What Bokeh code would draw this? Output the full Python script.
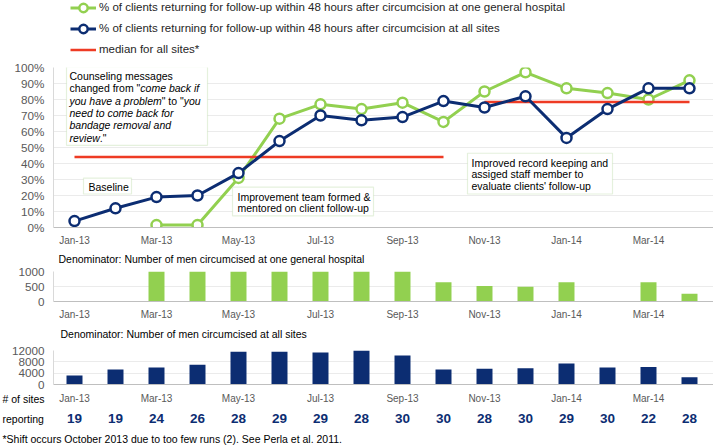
from bokeh.plotting import figure
from bokeh.layouts import column
from bokeh.models import (Range1d, FixedTicker, Legend, LegendItem, Label,
                          BoxAnnotation, ColumnDataSource, PrintfTickFormatter)
from bokeh.core.properties import value
from bokeh.embed import file_html
from bokeh.resources import INLINE

nan = float("nan")

# ---------------- data ----------------
months = ["Jan-13", "Feb-13", "Mar-13", "Apr-13", "May-13", "Jun-13", "Jul-13", "Aug-13",
          "Sep-13", "Oct-13", "Nov-13", "Dec-13", "Jan-14", "Feb-14", "Mar-14", "Apr-14"]
tick_labels = ["Jan-13", "Mar-13", "May-13", "Jul-13", "Sep-13", "Nov-13", "Jan-14", "Mar-14"]
pct_hospital = [nan, nan, 1.5, 1.5, 31, 68, 77, 74, 78, 66, 85, 97, 87, 84, 80, 92]
pct_all_sites = [4, 12, 19, 20, 34, 54, 70, 67, 69, 79, 75, 82, 56, 74, 87, 87]
median_before = 44
median_after = 78.5
n_hospital = [nan, nan, 1000, 1000, 1000, 1000, 1000, 1000, 1000, 640, 520, 490, 640, nan, 640, 260]
n_all_sites = [3200, 5300, 6000, 7000, 11600, 11600, 11300, 12000, 10200, 5300, 5600, 5700,
               7400, 6000, 6200, 2600]
sites_reporting = [19, 19, 24, 26, 28, 29, 29, 28, 30, 30, 28, 30, 29, 30, 22, 28]

legend_labels = [
    "% of clients returning for follow-up within 48 hours after circumcision at one general hospital",
    "% of clients returning for follow-up within 48 hours after circumcision at all sites",
    "median for all sites*",
]
title_hospital = "Denominator: Number of men circumcised at one general hospital"
title_all = "Denominator: Number of men circumcised at all sites"
row_labels = ["# of sites", "reporting"]
footnote = "*Shift occurs October 2013 due to too few runs (2). See Perla et al. 2011."

# ---------------- styles ----------------
GREEN = "#92d050"
NAVY = "#0c2d72"
RED = "#ee3b24"
BOX = "#a9d18e"
FONT = "Liberation Sans"
TXT = "#262626"
GRAY = "#595959"

W = 713
x_idx = list(range(len(months)))
STEP = 41.0                      # pixels per month
X0 = 74.0                        # pixel of first month
shared_x = Range1d((53 - X0) / STEP, (713 - X0) / STEP)
tick_pos = [months.index(t) for t in tick_labels]
overrides = {p: t for p, t in zip(tick_pos, tick_labels)}


def bare(height):
    """A figure whose frame fills the whole strip (for free text rows)."""
    p = figure(width=W, height=height, x_range=Range1d(-X0 / STEP, (W - X0) / STEP),
               y_range=Range1d(0, height), output_backend="svg", toolbar_location=None,
               min_border_left=0, min_border_right=0, min_border_top=0,
               min_border_bottom=0, frame_align=False)
    p.axis.visible = False
    p.grid.visible = False
    p.outline_line_color = None
    p.background_fill_color = "white"
    p.border_fill_color = "white"
    return p


def chart(height, y_range, top, bottom):
    p = figure(width=W, height=height, x_range=shared_x, y_range=y_range,
               output_backend="svg", toolbar_location=None, frame_align=False,
               min_border_left=53, min_border_right=0, min_border_top=top,
               min_border_bottom=bottom)
    p.outline_line_color = None
    p.background_fill_color = "white"
    p.border_fill_color = "white"
    p.xgrid.grid_line_color = None
    p.ygrid.grid_line_color = "#ebebeb"
    p.xaxis.ticker = FixedTicker(ticks=tick_pos)
    p.xaxis.major_label_overrides = overrides
    for ax in (p.xaxis[0], p.yaxis[0]):
        ax.major_tick_line_color = None
        ax.minor_tick_line_color = None
        ax.major_tick_out = 0
        ax.major_tick_in = 0
        ax.major_label_text_font = FONT
        ax.major_label_text_color = GRAY
    p.xaxis.axis_line_color = "#bfbfbf"
    p.yaxis.axis_line_color = "#d9d9d9"
    p.xaxis.major_label_text_font_size = "10px"
    p.xaxis.major_label_standoff = 7
    p.yaxis.major_label_text_font_size = "11.7px"
    p.yaxis.major_label_standoff = 9
    return p


def free_text(p, x, y, text, size="10.5px", color="black"):
    p.add_layout(Label(x=x, y=y, x_units="screen", text=text, text_font=FONT,
                       text_font_size=size, text_color=color, text_baseline="middle"))


# ---------------- legend strip ----------------
pl = bare(60)
hidden = dict(x=[-50, -49], y=[-50, -49])   # legend samples only, outside the strip
lg1 = pl.line(line_color=GREEN, line_width=3, **hidden)
lg2 = pl.scatter(marker="circle", size=10, fill_color="white", line_color=GREEN,
                 line_width=2.5, **hidden)
lb1 = pl.line(line_color=NAVY, line_width=3, **hidden)
lb2 = pl.scatter(marker="circle", size=10, fill_color="white", line_color=NAVY,
                 line_width=2.5, **hidden)
lr = pl.line(line_color=RED, line_width=2.5, **hidden)
legend = Legend(items=[LegendItem(label=legend_labels[0], renderers=[lg1, lg2]),
                       LegendItem(label=legend_labels[1], renderers=[lb1, lb2]),
                       LegendItem(label=legend_labels[2], renderers=[lr])],
                location=(70, 0.5), orientation="vertical", margin=0, padding=0,
                spacing=0, label_height=21, glyph_height=21, glyph_width=26,
                label_standoff=3, background_fill_alpha=0, border_line_color=None,
                label_text_font=FONT, label_text_font_size="11.5px",
                label_text_color=TXT)
pl.add_layout(legend, "center")

# ---------------- top chart ----------------
pa = chart(188, Range1d(0, 100), 7, 20)
pa.yaxis.ticker = FixedTicker(ticks=list(range(0, 101, 10)))
pa.yaxis.formatter = PrintfTickFormatter(format="%d%%")

src = ColumnDataSource(dict(x=x_idx, h=pct_hospital, a=pct_all_sites))
pa.line("x", "h", source=src, line_color=GREEN, line_width=3)
pa.scatter("x", "h", source=src, marker="circle", size=10, fill_color="white",
           line_color=GREEN, line_width=2.5)
first_after = months.index("Nov-13")
pa.segment(x0=[0, first_after], x1=[first_after - 1, len(months) - 1],
           y0=[median_before, median_after], y1=[median_before, median_after],
           line_color=RED, line_width=2.5)
pa.line("x", "a", source=src, line_color=NAVY, line_width=3)
pa.scatter("x", "a", source=src, marker="circle", size=10, fill_color="white",
           line_color=NAVY, line_width=2.5)

ANN_SIZE = 10.5
ANN = dict(text_font=FONT, text_font_size=f"{ANN_SIZE}px", text_color="black",
           text_baseline="middle")

# Arial / Liberation Sans advance widths (per 1000 em) for measuring text runs
_W = {" ": 278, '"': 355, ".": 278, "a": 556, "b": 556, "c": 500, "d": 556, "e": 556,
      "f": 278, "g": 556, "h": 556, "i": 222, "k": 500, "l": 222, "m": 833, "n": 556,
      "o": 556, "p": 556, "r": 333, "s": 500, "t": 278, "u": 556, "v": 500, "w": 722,
      "y": 500}


def run_w(s):
    return sum(_W.get(c, 556) for c in s) * ANN_SIZE / 1000.0


def px(v):  # picture pixel -> month units
    return (v - X0) / STEP


def py(v):  # picture pixel -> percent units
    return (227.7 - v) / 1.61


def box(left, right, top, bottom):
    pa.add_layout(BoxAnnotation(left=left, right=right, top=top, bottom=bottom,
                                fill_color="white", fill_alpha=1, line_color=BOX,
                                line_width=1.2, level="annotation"))


def line_runs(x_px, y_px, runs):
    cur = x_px
    for s, italic in runs:
        pa.add_layout(Label(x=px(cur), y=py(y_px), text=s,
                            text_font_style="italic" if italic else "normal", **ANN))
        cur += run_w(s)


# box 1
box(px(66), px(207), 100.5, py(145))
line_runs(69, 75, [("Counseling messages", False)])
line_runs(69, 87.5, [("changed from \"", False), ("come back if", True)])
line_runs(69, 100, [("you have a problem", True), ("\" to \"", False), ("you", True)])
line_runs(69, 112.5, [("need to come back for", True)])
line_runs(69, 125, [("bandage removal and", True)])
line_runs(69, 137.5, [("review", True), (".\"", False)])
# box 2
box(px(83), px(131), py(178), py(194))
line_runs(88, 186.5, [("Baseline", False)])
# box 3
box(px(232), px(373), py(187), py(216))
line_runs(237, 197, [("Improvement team formed &", False)])
line_runs(237, 208.5, [("mentored on client follow-up", False)])
# box 4
box(px(467), px(612), py(153), py(194))
line_runs(471, 162.3, [("Improved record keeping and", False)])
line_runs(471, 174, [("assiged staff member to", False)])
line_runs(471, 186, [("evaluate clients' follow-up", False)])

# ---------------- middle chart ----------------
t1 = bare(17)
free_text(t1, 58, 7, title_hospital)

pb = chart(57, Range1d(0, 1000), 6, 20)
pb.yaxis.ticker = FixedTicker(ticks=[0, 500, 1000])
pb.vbar(x=x_idx, top=n_hospital, width=0.39, fill_color=GREEN, line_color=None)

# ---------------- bottom chart ----------------
t2 = bare(21)
free_text(t2, 60, 10, title_all)

pc = chart(48, Range1d(0, 12000), 7, 7)
pc.xaxis.ticker = FixedTicker(ticks=[])
pc.yaxis.ticker = FixedTicker(ticks=[0, 4000, 8000, 12000])
pc.vbar(x=x_idx, top=n_all_sites, width=0.39, fill_color=NAVY, line_color=None)

# ---------------- month labels, sites row and footnote ----------------
pd_ = bare(57)
pd_.text(x=tick_pos, y=[50] * len(tick_pos), text=tick_labels, text_font=value(FONT),
         text_font_size="10px", text_color=GRAY, text_align="center",
         text_baseline="middle")
pd_.text(x=x_idx, y=[30] * len(x_idx), text=[str(s) for s in sites_reporting],
         text_font=value(FONT), text_font_size="13.5px", text_font_style="bold",
         text_color=NAVY, text_align="center", text_baseline="middle")
free_text(pd_, 2, 50, row_labels[0])
free_text(pd_, 2, 30, row_labels[1])
free_text(pd_, 2, 10, footnote)

layout = column(pl, pa, t1, pb, t2, pc, pd_, spacing=0)
open("out.html", "w").write(file_html(layout, INLINE))
